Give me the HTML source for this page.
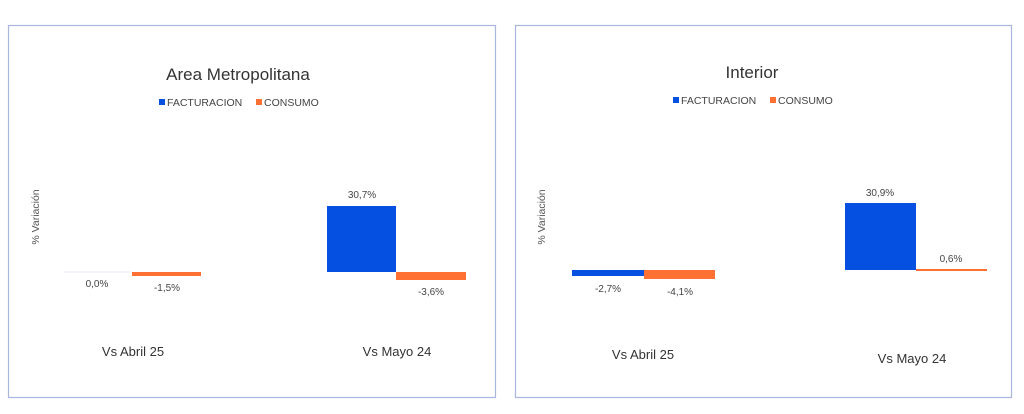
<!DOCTYPE html>
<html><head><meta charset="utf-8"><style>
body{margin:0;background:#fff;}
svg{display:block;font-family:"Liberation Sans",sans-serif;}
</style></head><body>
<svg width="1024" height="414" viewBox="0 0 1024 414">
<rect x="0" y="0" width="1024" height="414" fill="#fff"/>
<rect x="8.5" y="25.5" width="487" height="372" fill="#fff" stroke="#a8b6df" stroke-width="1.2"/>
<rect x="515.5" y="25.5" width="496" height="372" fill="#fff" stroke="#a8b6df" stroke-width="1.2"/>

<!-- Left -->
<text x="238" y="80" font-size="17" fill="#333" text-anchor="middle">Area Metropolitana</text>
<rect x="159" y="99" width="6" height="6" fill="#0550e0"/>
<text x="167" y="106" font-size="10.5" fill="#444">FACTURACION</text>
<rect x="256" y="99" width="6" height="6" fill="#ff7033"/>
<text x="264" y="106" font-size="10.5" fill="#444">CONSUMO</text>
<text transform="translate(39,217) rotate(-90)" font-size="10.5" fill="#555" text-anchor="middle">% Variación</text>
<rect x="64" y="271.5" width="67" height="1" fill="#e6e9f5"/>
<rect x="132" y="272" width="69" height="4" fill="#ff7033"/>
<rect x="327" y="206" width="69" height="66" fill="#0550e0"/>
<rect x="396" y="272" width="70" height="8" fill="#ff7033"/>
<text x="97" y="287" font-size="10" fill="#444" text-anchor="middle">0,0%</text>
<text x="167" y="291" font-size="10" fill="#444" text-anchor="middle">-1,5%</text>
<text x="362" y="198" font-size="10" fill="#444" text-anchor="middle">30,7%</text>
<text x="431" y="295" font-size="10" fill="#444" text-anchor="middle">-3,6%</text>
<text x="133" y="356" font-size="13" fill="#333" text-anchor="middle">Vs Abril 25</text>
<text x="397" y="356" font-size="13" fill="#333" text-anchor="middle">Vs Mayo 24</text>

<!-- Right -->
<text x="752" y="78" font-size="17" fill="#333" text-anchor="middle">Interior</text>
<rect x="673" y="97" width="6" height="6" fill="#0550e0"/>
<text x="681" y="104" font-size="10.5" fill="#444">FACTURACION</text>
<rect x="770" y="97" width="6" height="6" fill="#ff7033"/>
<text x="778" y="104" font-size="10.5" fill="#444">CONSUMO</text>
<text transform="translate(545,217) rotate(-90)" font-size="10.5" fill="#555" text-anchor="middle">% Variación</text>
<rect x="572" y="270" width="72" height="6" fill="#0550e0"/>
<rect x="644" y="270" width="71" height="9" fill="#ff7033"/>
<rect x="845" y="203" width="71" height="67" fill="#0550e0"/>
<rect x="916" y="269" width="71" height="2" fill="#ff7033"/>
<text x="608" y="292" font-size="10" fill="#444" text-anchor="middle">-2,7%</text>
<text x="680" y="295" font-size="10" fill="#444" text-anchor="middle">-4,1%</text>
<text x="880" y="196" font-size="10" fill="#444" text-anchor="middle">30,9%</text>
<text x="951" y="262" font-size="10" fill="#444" text-anchor="middle">0,6%</text>
<text x="643" y="359" font-size="13" fill="#333" text-anchor="middle">Vs Abril 25</text>
<text x="912" y="363" font-size="13" fill="#333" text-anchor="middle">Vs Mayo 24</text>
</svg>
</body></html>
